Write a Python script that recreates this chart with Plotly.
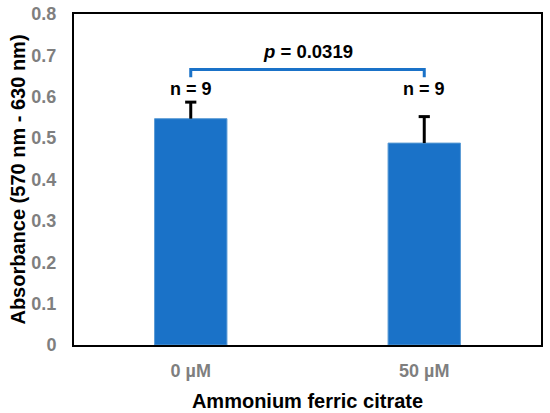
import plotly.graph_objects as go

categories = ["0 µM", "50 µM"]
absorbance = [0.547, 0.488]
sd = [0.040, 0.064]
n_labels = ["n = 9", "n = 9"]
p_label = "<i>p</i> = 0.0319"
bracket_top = 0.666
bracket_foot = 0.647
n_y = 0.618

blue = "#1A72C8"
grey = "#7F7F7F"
font = "Liberation Sans"

fig = go.Figure()
fig.add_trace(go.Bar(
    x=categories, y=absorbance,
    marker=dict(color=blue, line=dict(color="#5B9BD5", width=1)),
    width=0.31,
))

# upper-only error bars (stem + cap)
for c, a, s in zip(categories, absorbance, sd):
    fig.add_trace(go.Scatter(
        x=[c, c], y=[a, a + s], mode="lines",
        line=dict(color="black", width=3), hoverinfo="skip",
    ))
fig.add_trace(go.Scatter(
    x=categories, y=[a + s for a, s in zip(absorbance, sd)], mode="markers",
    marker=dict(symbol="line-ew", size=8, line=dict(color="black", width=3)),
    hoverinfo="skip",
))

# significance bracket
fig.add_trace(go.Scatter(
    x=[categories[0], categories[0], categories[1], categories[1]],
    y=[bracket_foot, bracket_top, bracket_top, bracket_foot],
    mode="lines", line=dict(color=blue, width=3), hoverinfo="skip",
))

for c, lab in zip(categories, n_labels):
    fig.add_annotation(x=c, y=n_y, text="<b>" + lab + "</b>", showarrow=False,
                       font=dict(family=font, size=18, color="black"))
fig.add_annotation(x=0.5, y=0.709, xref="x", text="<b>" + p_label + "</b>",
                   showarrow=False, font=dict(family=font, size=18.5, color="black"))

fig.update_layout(
    width=550, height=413,
    margin=dict(l=74, r=9, t=14, b=68),
    plot_bgcolor="white", paper_bgcolor="white",
    showlegend=False,
    font=dict(family=font),
)
fig.update_xaxes(
    showline=True, linecolor="black", linewidth=2, mirror=True,
    ticks="", ticklabelstandoff=8, automargin=False,
    tickfont=dict(family=font, size=18, color=grey, weight="bold"),
    title=dict(text="<b>Ammonium ferric citrate</b>", font=dict(size=20, color="black"), standoff=14),
)
fig.update_yaxes(
    range=[0, 0.8], dtick=0.1, tickformat="~g",
    showline=True, linecolor="black", linewidth=2, mirror=True,
    showgrid=False, zeroline=False, ticks="",
    ticklabelstandoff=12, ticklabeloverflow="allow", automargin=False,
    tickfont=dict(family=font, size=18, color=grey, weight="bold"),
    title=dict(text="<b>Absorbance (570 nm - 630 nm)</b>", font=dict(size=20, color="black"), standoff=0),
)

# drop the browser's default 8px body margin so the figure fills the window
fig.write_html("out.html", config={"displayModeBar": False},
               post_script="document.body.style.margin='0';")
